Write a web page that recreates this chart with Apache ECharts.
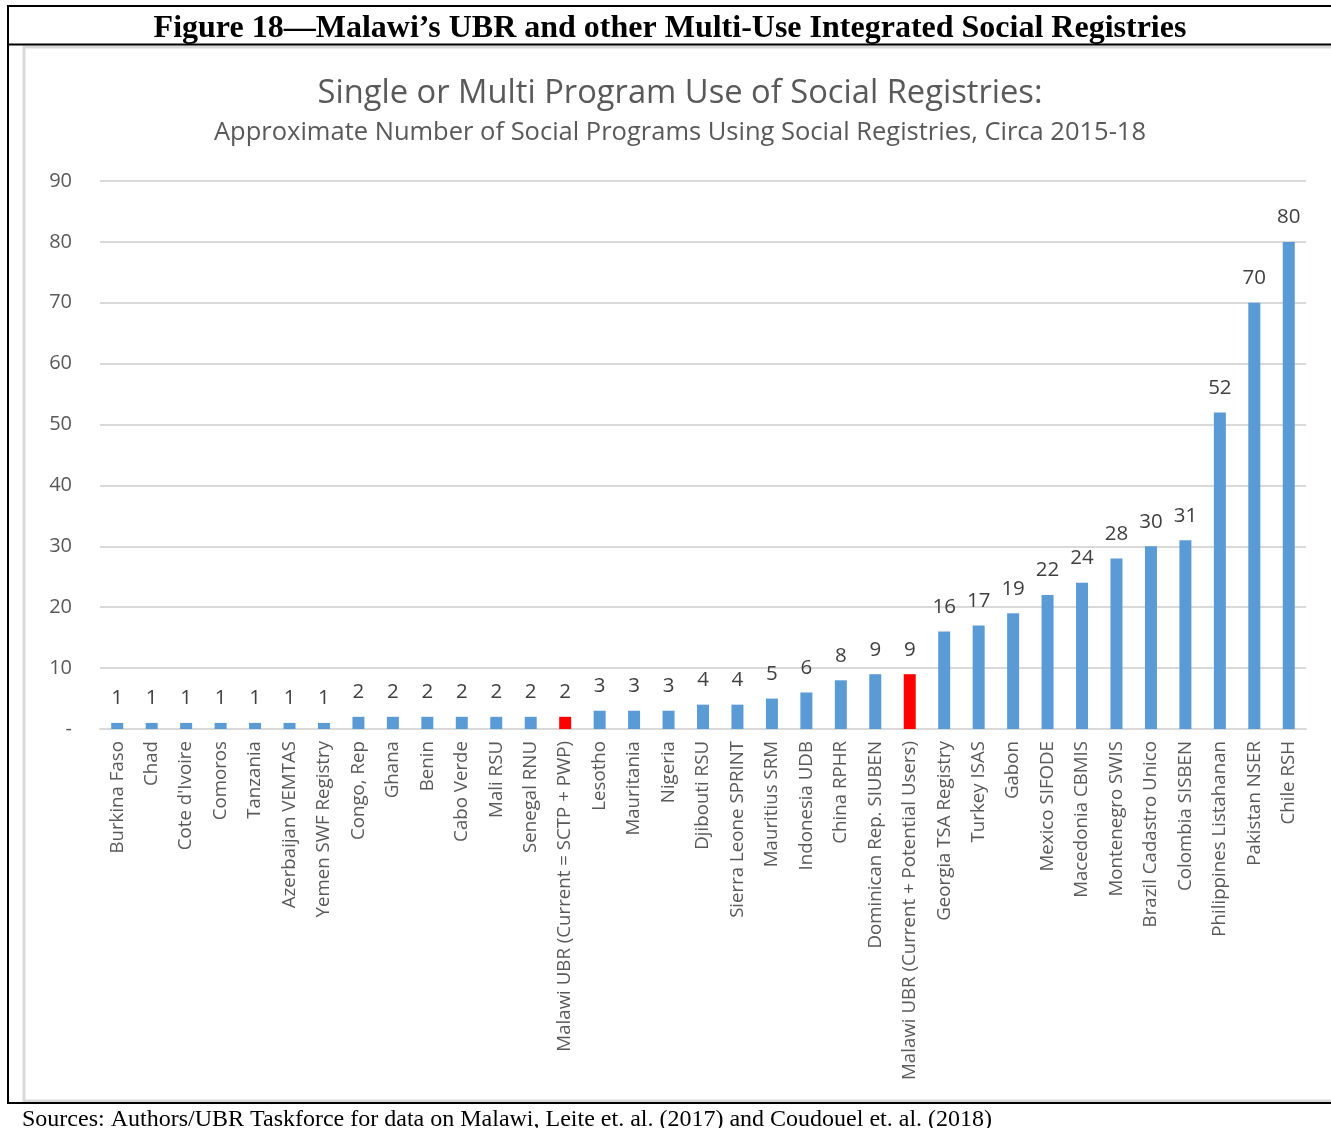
<!DOCTYPE html>
<html>
<head>
<meta charset="utf-8">
<script src="https://cdn.jsdelivr.net/npm/echarts@6/dist/echarts.min.js"></script>
<style>
html,body{margin:0;padding:0;background:#fff;}
#chart{width:1331px;height:1128px;}
</style>
</head>
<body>
<div id="chart"></div>
<script>
var categories = [
  "Burkina Faso","Chad","Cote d'Ivoire","Comoros","Tanzania","Azerbaijan VEMTAS","Yemen SWF Registry",
  "Congo, Rep","Ghana","Benin","Cabo Verde","Mali RSU","Senegal RNU","Malawi UBR (Current = SCTP + PWP)",
  "Lesotho","Mauritania","Nigeria","Djibouti RSU","Sierra Leone SPRINT","Mauritius SRM","Indonesia UDB",
  "China RPHR","Dominican Rep. SIUBEN","Malawi UBR (Current + Potential Users)","Georgia TSA Registry",
  "Turkey ISAS","Gabon","Mexico SIFODE","Macedonia CBMIS","Montenegro SWIS","Brazil Cadastro Unico",
  "Colombia SISBEN","Philippines Listahanan","Pakistan NSER","Chile RSH"
];
var values = [1,1,1,1,1,1,1,2,2,2,2,2,2,2,3,3,3,4,4,5,6,8,9,9,16,17,19,22,24,28,30,31,52,70,80];
var highlighted = ["Malawi UBR (Current = SCTP + PWP)","Malawi UBR (Current + Potential Users)"];
var yTicks = [0,10,20,30,40,50,60,70,80,90];

var figureTitle = "Figure 18\u2014Malawi\u2019s UBR and other Multi-Use Integrated Social Registries";
var chartTitle = "Single or Multi Program Use of Social Registries:";
var chartSubtitle = "Approximate Number of Social Programs Using Social Registries, Circa 2015-18";
var sourcesText = "Sources: Authors/UBR Taskforce for data on Malawi, Leite et. al. (2017) and Coudouel et. al. (2018)";

var chart = echarts.init(document.getElementById('chart'), null, {renderer:'canvas'});
var barData = categories.map(function(c,i){
  return {value: values[i], itemStyle:{color: highlighted.indexOf(c) >= 0 ? '#ff0000' : '#5b9bd5'}};
});
var FONT = '"Open Sans", sans-serif';
chart.setOption({
  animation:false,
  backgroundColor:'#fff',
  grid:{left:100, right:25, top:181, bottom:399, containLabel:false},
  xAxis:{
    type:'category', data:categories,
    axisLine:{lineStyle:{color:'#d9d9d9', width:2}},
    axisTick:{show:false},
    axisLabel:{rotate:90, interval:0, fontFamily:FONT, fontSize:18.7, color:'#595959', margin:12}
  },
  yAxis:{
    type:'value', min:0, max:90, interval:10,
    axisLine:{show:false}, axisTick:{show:false},
    splitLine:{lineStyle:{color:'#d9d9d9', width:2}},
    axisLabel:{fontFamily:FONT, fontSize:20, color:'#595959', margin:28,
      formatter:function(v){ return yTicks.indexOf(v) >= 0 ? (v===0?'-':String(v)) : ''; }}
  },
  series:[{
    type:'bar', data:barData, barWidth:12,
    label:{show:true, position:'top', distance:14, fontFamily:FONT, fontSize:20.5, color:'#404040'}
  }],
  graphic:[
    {type:'rect', shape:{x:24, y:47, width:1340, height:1054}, style:{fill:'none', stroke:'#d9d9d9', lineWidth:3}, z:10},
    {type:'line', shape:{x1:7, y1:6, x2:1331, y2:6}, style:{stroke:'#000', lineWidth:2}, z:11},
    {type:'line', shape:{x1:8, y1:5, x2:8, y2:1104}, style:{stroke:'#000', lineWidth:2}, z:11},
    {type:'line', shape:{x1:7, y1:44.5, x2:1331, y2:44.5}, style:{stroke:'#000', lineWidth:2}, z:11},
    {type:'line', shape:{x1:7, y1:1103, x2:1331, y2:1103}, style:{stroke:'#000', lineWidth:2}, z:11},
    {type:'text', x:670, y:29, style:{text:figureTitle, font:'bold 32px "Liberation Serif", "Times New Roman", serif', fill:'#000', align:'center', verticalAlign:'middle'}, z:12},
    {type:'text', x:680, y:94, style:{text:chartTitle, font:'32.7px "Open Sans", sans-serif', fill:'#595959', align:'center', verticalAlign:'middle'}, z:12},
    {type:'text', x:680, y:133, style:{text:chartSubtitle, font:'25.5px "Open Sans", sans-serif', fill:'#595959', align:'center', verticalAlign:'middle'}, z:12},
    {type:'text', x:22, y:1120, style:{text:sourcesText, font:'24px "Liberation Serif", "Times New Roman", serif', fill:'#000', align:'left', verticalAlign:'middle'}, z:12}
  ]
});
</script>
</body>
</html>
